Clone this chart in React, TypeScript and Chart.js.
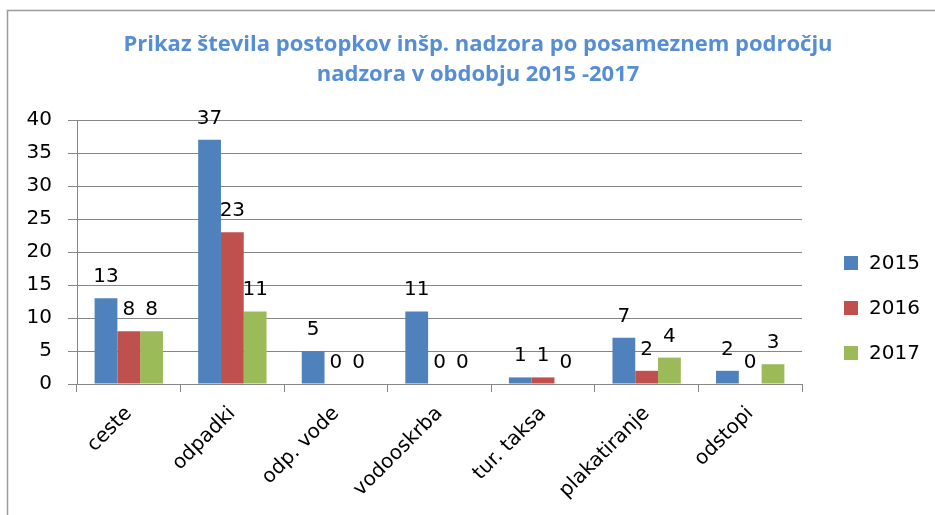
import React, { useEffect, useRef } from "react";
import { Chart, registerables } from "chart.js";

Chart.register(...registerables);

const titleLines = [
  "Prikaz števila postopkov inšp. nadzora po posameznem področju",
  "nadzora v obdobju 2015 -2017",
];
const categories = ["ceste", "odpadki", "odp. vode", "vodooskrba", "tur. taksa", "plakatiranje", "odstopi"];
const seriesLabels = ["2015", "2016", "2017"];
const values2015 = [13, 37, 5, 11, 1, 7, 2];
const values2016 = [8, 23, 0, 0, 1, 2, 0];
const values2017 = [8, 11, 0, 0, 0, 4, 3];
const seriesColors = ["#4F81BD", "#C0504D", "#9BBB59"];
const yTicks = [0, 5, 10, 15, 20, 25, 30, 35, 40];

const FONT = "'DejaVu Sans', sans-serif";
const GRID = "#868686";

const decorPlugin = {
  id: "decor",
  beforeDraw(chart: any) {
    const ctx = chart.ctx;
    ctx.save();
    ctx.fillStyle = "#ffffff";
    ctx.fillRect(0, 0, chart.width, chart.height);
    ctx.strokeStyle = "#9a9a9a";
    ctx.lineWidth = 1.5;
    ctx.beginPath();
    ctx.moveTo(7.5, chart.height);
    ctx.lineTo(7.5, 10.5);
    ctx.lineTo(chart.width, 10.5);
    ctx.stroke();
    // title
    ctx.fillStyle = "#558ED5";
    ctx.font = "bold 22px 'Open Sans', sans-serif";
    ctx.textAlign = "center";
    ctx.textBaseline = "middle";
    ctx.fillText(titleLines[0], 478, 45);
    ctx.fillText(titleLines[1], 478, 75);
    ctx.restore();
  },
  afterDatasetsDraw(chart: any) {
    const ctx = chart.ctx;
    ctx.save();
    ctx.font = `20px ${FONT}`;
    ctx.fillStyle = "#000000";
    ctx.textAlign = "center";
    ctx.textBaseline = "alphabetic";
    chart.data.datasets.forEach((ds: any, i: number) => {
      const meta = chart.getDatasetMeta(i);
      meta.data.forEach((el: any, j: number) => {
        ctx.fillText(String(ds.data[j]), el.x, el.y - 16);
      });
    });
    // legend
    const ys = [263, 308, 353];
    chart.data.datasets.forEach((ds: any, i: number) => {
      ctx.fillStyle = ds.backgroundColor;
      ctx.fillRect(844, ys[i] - 7, 14, 14);
      ctx.fillStyle = "#000000";
      ctx.textAlign = "left";
      ctx.textBaseline = "middle";
      ctx.fillText(ds.label, 869, ys[i] + 1);
    });
    ctx.restore();
  },
};

export default function App() {
  const ref = useRef<HTMLCanvasElement | null>(null);
  useEffect(() => {
    document.body.style.margin = "0";
    if (!ref.current) return;
    const chart = new Chart(ref.current, {
      type: "bar",
      data: {
        labels: categories,
        datasets: [values2015, values2016, values2017].map((d, i) => ({
          label: seriesLabels[i],
          data: d,
          backgroundColor: seriesColors[i],
          borderWidth: 0,
          categoryPercentage: 0.66,
          barPercentage: 1,
        })),
      },
      options: {
        animation: false,
        responsive: false,
        layout: { padding: { left: 0, right: 935 - 802, top: 120, bottom: 0 } },
        plugins: { legend: { display: false }, title: { display: false }, tooltip: { enabled: false } },
        scales: {
          x: {
            offset: true,
            grid: { display: true, drawOnChartArea: false, drawTicks: true, tickLength: 8, color: GRID, offset: true },
            border: { color: GRID, width: 1 },
            ticks: { minRotation: 45, maxRotation: 45, font: { family: FONT, size: 20 }, color: "#000", padding: 10 },
            afterFit: (s: any) => { s.height = 515 - 384; },
          },
          y: {
            min: 0,
            max: 40,
            afterBuildTicks: (s: any) => { s.ticks = yTicks.map((v) => ({ value: v })); },
            grid: { color: GRID, tickLength: 9, lineWidth: 1 },
            border: { color: GRID, width: 1 },
            ticks: { font: { family: FONT, size: 20 }, color: "#000", padding: 16 },
            afterFit: (s: any) => { s.width = 77; },
          },
        },
      },
      plugins: [decorPlugin],
    });
    return () => chart.destroy();
  }, []);
  return (
    <div style={{ width: 935, height: 515 }}>
      <canvas ref={ref} width={935} height={515} />
    </div>
  );
}
